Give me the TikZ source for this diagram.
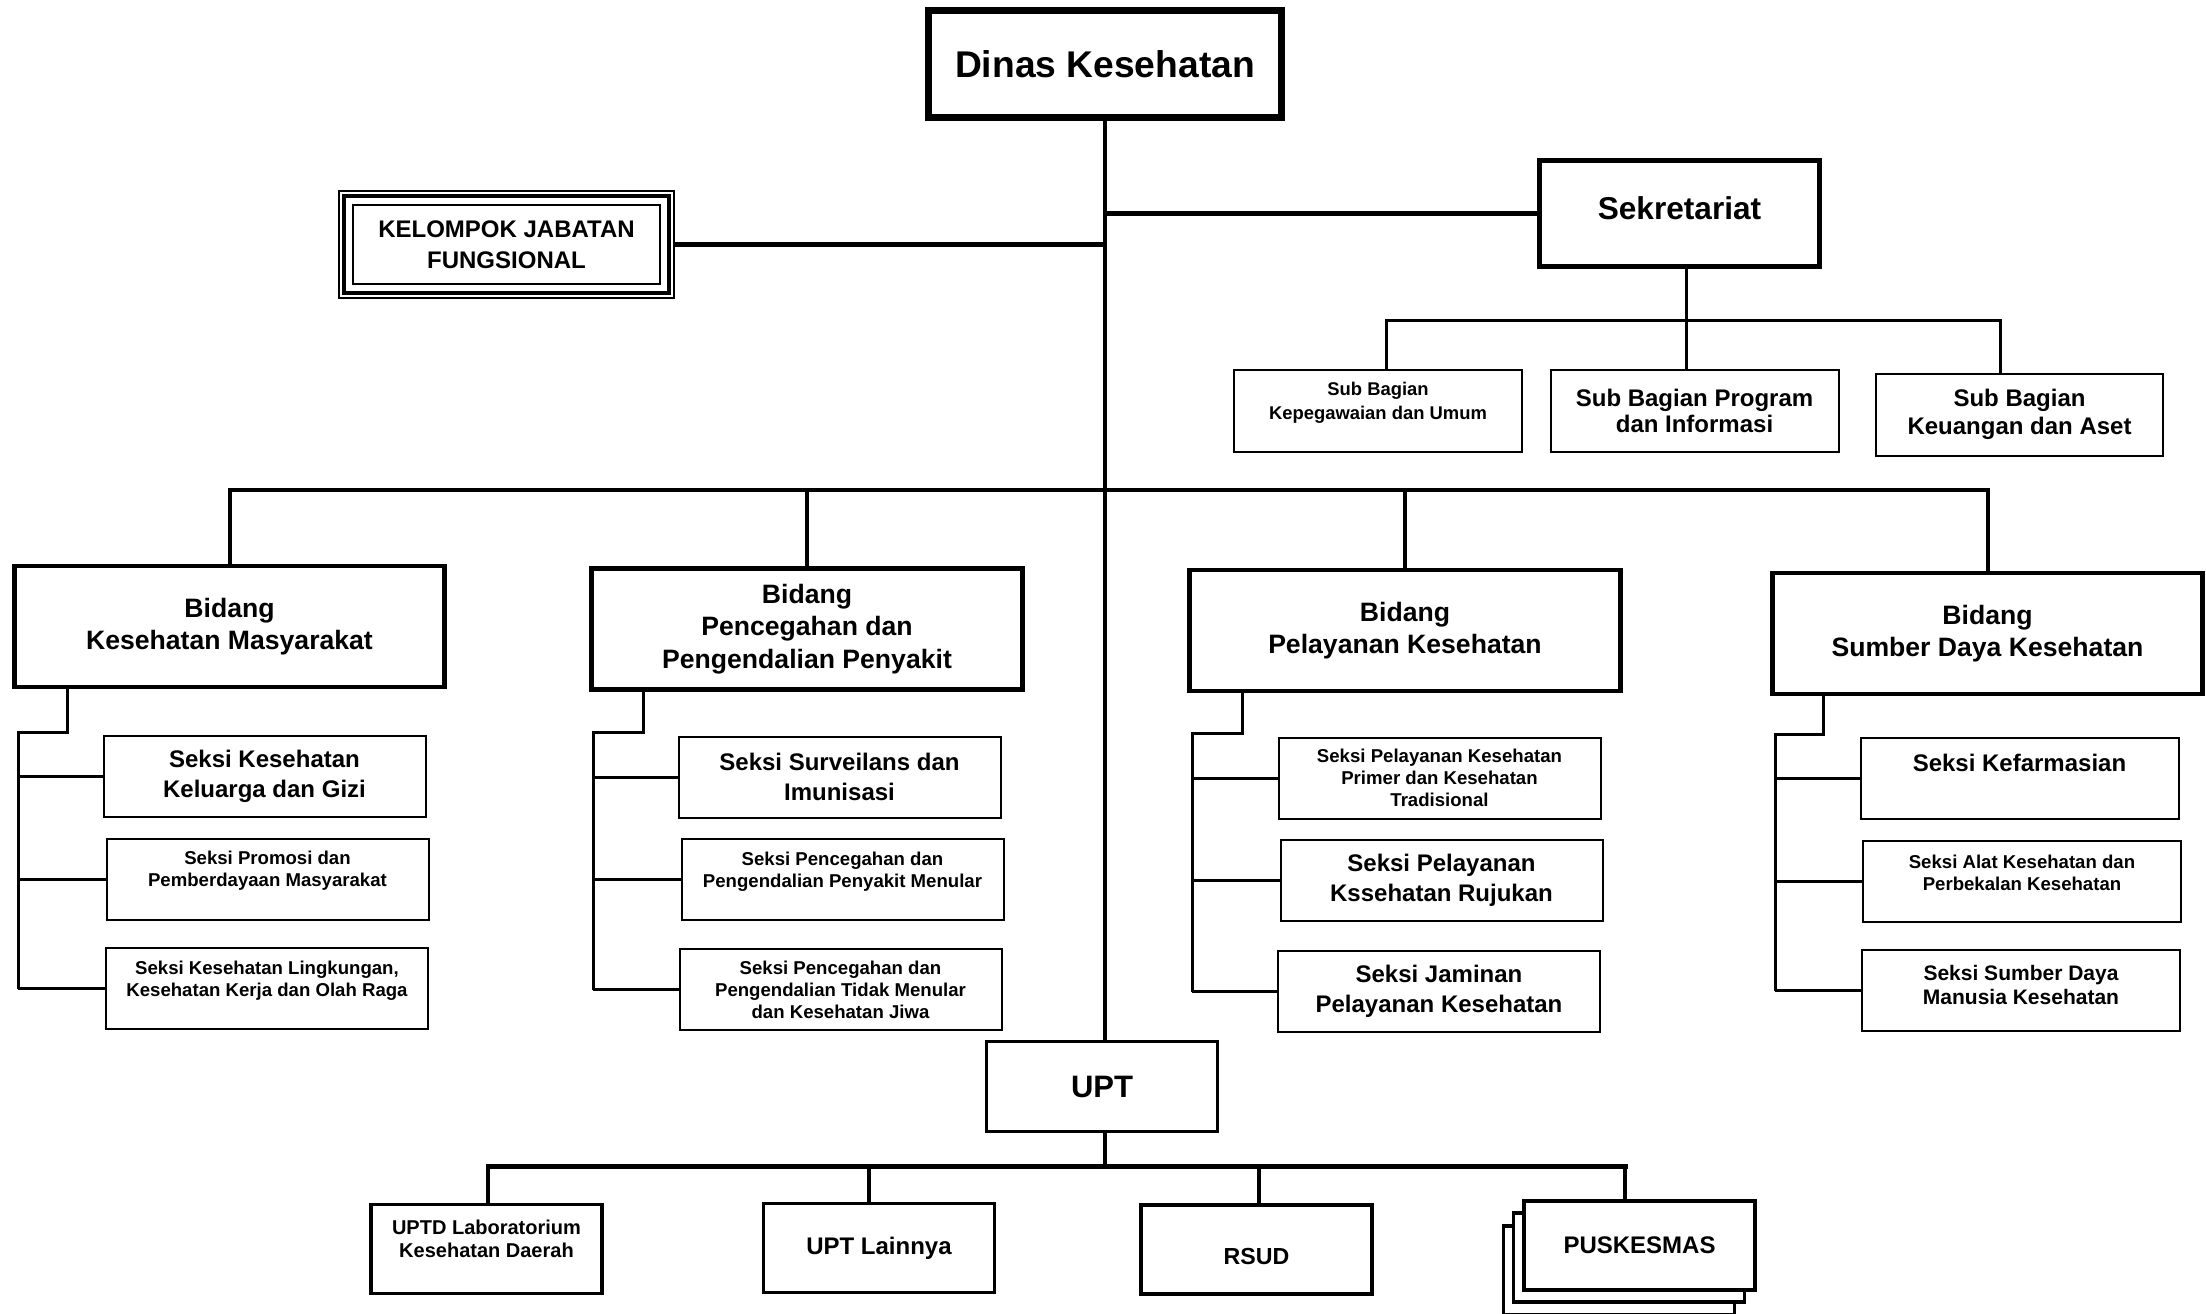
\documentclass[tikz,border=0pt]{standalone}
\usepackage{fontspec}
\setmainfont{Liberation Sans}
\begin{document}
\begin{tikzpicture}[x=0.5pt,y=-0.5pt,
  pusat/.style={draw, line width=3.5pt, inner sep=0pt, minimum width=176.5pt, minimum height=53.5pt, font=\bfseries\fontsize{18.6}{22}\selectfont},
  fungsional/.style={draw, line width=2pt, outer sep=0pt, inner sep=0pt, minimum width=162.5pt, minimum height=48.5pt, align=center, font=\bfseries\fontsize{12}{15.5}\selectfont},
  sekre/.style={draw, line width=2.7pt, inner sep=0pt, minimum width=139.8pt, minimum height=52.8pt, font=\bfseries\fontsize{15.8}{19}\selectfont},
  subbag/.style={draw, line width=1pt, inner sep=0pt, minimum width=144pt, minimum height=41pt, align=center, font=\bfseries\fontsize{12}{13.7}\selectfont},
  bidang/.style={draw, line width=2.4pt, inner sep=0pt, minimum width=215.3pt, minimum height=60.5pt, align=center, font=\bfseries\fontsize{13.3}{16.2}\selectfont},
  seksi/.style={draw, fill=white, line width=1pt, inner sep=0pt, minimum width=161pt, minimum height=40.5pt, align=center, font=\bfseries\fontsize{12}{14.8}\selectfont},
  kecil/.style={inner sep=0pt, align=center, font=\bfseries\fontsize{9.3}{11}\selectfont},
  uptk/.style={draw, line width=1.7pt, inner sep=0pt, minimum width=115.3pt, minimum height=44.8pt, font=\bfseries\fontsize{15.5}{18}\selectfont},
  unit/.style={draw, fill=white, line width=1.7pt, inner sep=0pt, minimum width=115.5pt, minimum height=44.5pt, font=\bfseries\fontsize{12}{14}\selectfont},
  garis/.style={line width=2pt},
  cabang/.style={line width=1.5pt}]
\useasboundingbox (0,0) rectangle (2206,1313);

\node[pusat] (dk) at (1105,64) {Dinas Kesehatan};
\node[fungsional] (kjf) at (506.5,244.5) {KELOMPOK JABATAN\\FUNGSIONAL};
\draw[line width=1pt] ([shift={(-5,-5)}]kjf.north west) rectangle ([shift={(5,5)}]kjf.south east);
\draw[line width=1pt] ([shift={(9,9)}]kjf.north west) rectangle ([shift={(-9,-9)}]kjf.south east);
\node[sekre, text depth=5.5pt] (sek) at (1679.5,213.5) {Sekretariat};

\node[subbag] (sbk) at (1378,411) {};
\node[kecil, font=\bfseries\fontsize{9.2}{12}\selectfont] (sbkT) at ([yshift=4pt]sbk.center) {Sub Bagian\\Kepegawaian dan Umum};
\node[subbag, font=\bfseries\fontsize{12}{13.4}\selectfont] (sbp) at (1694.5,411) {Sub Bagian Program\\dan Informasi};
\node[subbag, minimum width=143.5pt, font=\bfseries\fontsize{12}{14}\selectfont] (sbu) at (2019.5,414.5) {Sub Bagian\\Keuangan dan Aset};

\node[bidang] (bkm) at (229.5,626.5) {Bidang\\Kesehatan Masyarakat};
\node[bidang] (bp2p) at (807,629) {Bidang\\Pencegahan dan\\Pengendalian Penyakit};
\node[bidang] (byan) at (1405,630.5) {Bidang\\Pelayanan Kesehatan};
\node[bidang] (bsdk) at (1987.5,633.5) {Bidang\\Sumber Daya Kesehatan};

\node[seksi] (skg) at (264.5,776.5) {Seksi Kesehatan\\Keluarga dan Gizi};
\node[seksi] (spm) at (267.5,879) {};
\node[kecil] (spmT) at ([yshift=4pt]spm.center) {Seksi Promosi dan\\Pemberdayaan Masyarakat};
\node[seksi] (skl) at (267,988.5) {};
\node[kecil] (sklT) at ([yshift=4pt]skl.center) {Seksi Kesehatan Lingkungan,\\Kesehatan Kerja dan Olah Raga};

\node[seksi] (ssi) at (839.5,777) {Seksi Surveilans dan\\Imunisasi};
\node[seksi] (sp2m) at (842.5,879.5) {};
\node[kecil] (sp2mT) at ([yshift=4pt]sp2m.center) {Seksi Pencegahan dan\\Pengendalian Penyakit Menular};
\node[seksi, kecil] (sp2tm) at (840.5,989.5) {Seksi Pencegahan dan\\Pengendalian Tidak Menular\\dan Kesehatan Jiwa};

\node[seksi, kecil] (spp) at (1439.5,778) {Seksi Pelayanan Kesehatan\\Primer dan Kesehatan\\Tradisional};
\node[seksi] (spr) at (1441.5,880.5) {Seksi Pelayanan\\Kssehatan Rujukan};
\node[seksi] (sjp) at (1439,991.5) {Seksi Jaminan\\Pelayanan Kesehatan};

\node[seksi, minimum width=159pt, text depth=16pt] (skf) at (2019.5,778.5) {Seksi Kefarmasian};
\node[seksi, minimum width=159pt] (sak) at (2022,881.5) {};
\node[kecil] (sakT) at ([yshift=4.5pt]sak.center) {Seksi Alat Kesehatan dan\\Perbekalan Kesehatan};
\node[seksi, minimum width=159pt] (ssdm) at (2021,990.5) {};
\node[kecil, font=\bfseries\fontsize{10.5}{12}\selectfont] (ssdmT) at ([yshift=3pt]ssdm.center) {Seksi Sumber Daya\\Manusia Kesehatan};

\node[uptk] (upt) at (1102,1086.5) {UPT};
\node[unit] (uptd) at (486.5,1249) {};
\node[kecil, font=\bfseries\fontsize{10}{11.3}\selectfont] (uptdT) at ([yshift=5pt]uptd.center) {UPTD Laboratorium\\Kesehatan Daerah};
\node[unit] (uptl) at (879,1248) {UPT Lainnya};
\node[unit, font=\bfseries\fontsize{11.6}{14}\selectfont, text height=14.8pt] (rsud) at (1256.5,1249.5) {RSUD};
\node[unit] (pk3) at (1619,1270.5) {};
\node[unit] (pk2) at (1629,1257.5) {};
\node[unit] (pk) at (1639.5,1245.5) {PUSKESMAS};

\draw[garis] (dk.south) -- (dk.south |- upt.north);
\draw[garis, line width=2.5pt] (dk.south |- sek.west) -- (sek.west);
\draw[garis, line width=2.5pt] ([xshift=2.5pt]kjf.east) -- (kjf.east -| dk.south);

\coordinate (sbL) at (1386,320);
\coordinate (sbM) at (1686,320);
\coordinate (sbR) at (2000,320);
\draw[cabang] (sbM |- sek.south) -- (sbM);
\draw[cabang, line cap=rect] (sbL) -- (sbR);
\draw[cabang] (sbL) -- (sbL |- sbk.north);
\draw[cabang] (sbM) -- (sbM |- sbp.north);
\draw[cabang] (sbR) -- (sbR |- sbu.north);

\coordinate (bb) at (1105,490);
\draw[garis, line cap=rect] (bkm.north |- bb) -- (bsdk.north |- bb);
\draw[garis] (bkm.north |- bb) -- (bkm.north);
\draw[garis] (bp2p.north |- bb) -- (bp2p.north);
\draw[garis] (byan.north |- bb) -- (byan.north);
\draw[garis] (bsdk.north |- bb) -- (bsdk.north);

\coordinate (kmA) at (67,732);
\coordinate (kmB) at (18,732);
\draw[cabang] (kmA |- bkm.south) -- (kmA) -- (kmB) -- (kmB |- skl.west);
\draw[cabang] (kmB |- skg.west) -- (skg.west);
\draw[cabang] (kmB |- spm.west) -- (spm.west);
\draw[cabang] (kmB |- skl.west) -- (skl.west);

\coordinate (ppA) at (643,732);
\coordinate (ppB) at (593,732);
\draw[cabang] (ppA |- bp2p.south) -- (ppA) -- (ppB) -- (ppB |- sp2tm.west);
\draw[cabang] (ppB |- ssi.west) -- (ssi.west);
\draw[cabang] (ppB |- sp2m.west) -- (sp2m.west);
\draw[cabang] (ppB |- sp2tm.west) -- (sp2tm.west);

\coordinate (ykA) at (1242,733);
\coordinate (ykB) at (1192,733);
\draw[cabang] (ykA |- byan.south) -- (ykA) -- (ykB) -- (ykB |- sjp.west);
\draw[cabang] (ykB |- spp.west) -- (spp.west);
\draw[cabang] (ykB |- spr.west) -- (spr.west);
\draw[cabang] (ykB |- sjp.west) -- (sjp.west);

\coordinate (sdA) at (1823,734);
\coordinate (sdB) at (1775,734);
\draw[cabang] (sdA |- bsdk.south) -- (sdA) -- (sdB) -- (sdB |- ssdm.west);
\draw[cabang] (sdB |- skf.west) -- (skf.west);
\draw[cabang] (sdB |- sak.west) -- (sak.west);
\draw[cabang] (sdB |- ssdm.west) -- (ssdm.west);

\coordinate (ua) at (488,1166);
\coordinate (ub) at (869,1166);
\coordinate (uc) at (1259,1166);
\coordinate (ud) at (1625,1166);
\draw[garis] (upt.south -| dk.south) -- (dk.south |- ua);
\draw[garis, line width=2.5pt, line cap=rect] (ua) -- (ud);
\draw[garis] (ua) -- (ua |- uptd.north);
\draw[garis] (ub) -- (ub |- uptl.north);
\draw[garis] (uc) -- (uc |- rsud.north);
\draw[garis] (ud) -- (ud |- pk.north);

\end{tikzpicture}
\end{document}
